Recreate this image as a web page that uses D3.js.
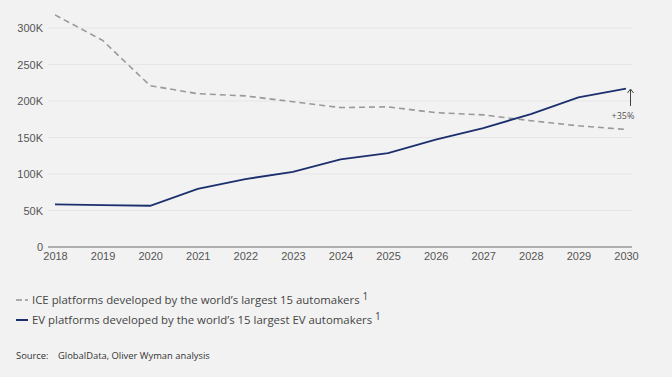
<!DOCTYPE html>
<html>
<head>
<meta charset="utf-8">
<script src="https://cdn.jsdelivr.net/npm/d3@7"></script>
<style>
  body { margin: 0; background: #f2f2f2; }
  svg { display: block; font-family: "Open Sans", "Noto Sans", sans-serif; }
</style>
</head>
<body>
<div id="chart"></div>
<script>
var years = [2018, 2019, 2020, 2021, 2022, 2023, 2024, 2025, 2026, 2027, 2028, 2029, 2030];
var iceValues = [318000, 283000, 221000, 210000, 207000, 199000, 191000, 192000, 184000, 181000, 173000, 166000, 161000];
var evValues = [58500, 57500, 56500, 79500, 93000, 103000, 120000, 128500, 147000, 163000, 182000, 205000, 217000];
var yTicks = [0, 50000, 100000, 150000, 200000, 250000, 300000];
var seriesNames = [
    "ICE platforms developed by the world\u2019s largest 15 automakers",
    "EV platforms developed by the world\u2019s 15 largest EV automakers"
];

var W = 672, H = 377;
var svg = d3.select("#chart").append("svg")
    .attr("width", W)
    .attr("height", H);

svg.append("rect").attr("width", W).attr("height", H).attr("fill", "#f2f2f2");

var x = d3.scaleLinear().domain([2018, 2030]).range([55, 626]);
var y = d3.scaleLinear().domain([0, 300000]).range([247, 28]);

// grid lines
svg.append("g")
    .selectAll("line")
    .data(yTicks.slice(1))
    .enter().append("line")
        .attr("x1", 48).attr("x2", 632)
        .attr("y1", function(d) { return y(d); })
        .attr("y2", function(d) { return y(d); })
        .attr("stroke", "#e6e6e6")
        .attr("stroke-width", 1);

// y axis labels
var yAxis = svg.append("g")
    .attr("transform", "translate(48,0)")
    .call(d3.axisLeft(y).tickValues(yTicks).tickSize(0).tickPadding(5)
        .tickFormat(function(d) { return d === 0 ? "0" : (d / 1000) + "K"; }));
yAxis.select(".domain").remove();
yAxis.selectAll("text").style("font-size", "11px").attr("fill", "#555");

// x axis
var xAxis = svg.append("g")
    .attr("transform", "translate(0,247)")
    .call(d3.axisBottom(x).tickValues(years).tickSize(0).tickPadding(5).tickFormat(d3.format("d")));
xAxis.select(".domain").remove();
xAxis.selectAll("text").style("font-size", "11px").attr("fill", "#555");
svg.append("line")
    .attr("x1", 48).attr("x2", 632)
    .attr("y1", y(0)).attr("y2", y(0))
    .attr("stroke", "#999")
    .attr("stroke-width", 1.5);

var line = d3.line()
    .x(function(d) { return x(d[0]); })
    .y(function(d) { return y(d[1]); });

svg.append("path")
    .datum(d3.zip(years, iceValues))
    .attr("d", line)
    .attr("fill", "none")
    .attr("stroke", "#999")
    .attr("stroke-width", 1.6)
    .attr("stroke-dasharray", "6,4");

svg.append("path")
    .datum(d3.zip(years, evValues))
    .attr("d", line)
    .attr("fill", "none")
    .attr("stroke", "#1b2f6e")
    .attr("stroke-width", 1.8);

// +35% annotation
var ax = 630.5;
svg.append("line")
    .attr("x1", ax).attr("x2", ax)
    .attr("y1", 106).attr("y2", 90)
    .attr("stroke", "#444").attr("stroke-width", 1);
svg.append("path")
    .attr("d", "M" + (ax - 3) + ",93 L" + ax + ",89 L" + (ax + 3) + ",93")
    .attr("fill", "none").attr("stroke", "#444").attr("stroke-width", 1);
svg.append("text")
    .attr("x", 623).attr("y", 119)
    .attr("text-anchor", "middle")
    .style("font-size", "9px")
    .attr("fill", "#555")
    .text("+35%");

// legend
var legend = svg.append("g");
legend.append("line").attr("x1", 16).attr("x2", 22).attr("y1", 300).attr("y2", 300)
    .attr("stroke", "#999").attr("stroke-width", 1.6);
legend.append("line").attr("x1", 25).attr("x2", 28).attr("y1", 300).attr("y2", 300)
    .attr("stroke", "#999").attr("stroke-width", 1.6);
legend.append("line").attr("x1", 16).attr("x2", 28).attr("y1", 320).attr("y2", 320)
    .attr("stroke", "#1b2f6e").attr("stroke-width", 2);

seriesNames.forEach(function(name, i) {
    var t = legend.append("text")
        .attr("x", 32).attr("y", 304 + i * 20)
        .style("font-size", "11.4px")
        .attr("fill", "#444");
    t.append("tspan").text(name + " ");
    t.append("tspan").attr("dy", -4).style("font-size", "10px").text("1");
});

var src = svg.append("text")
    .attr("y", 359)
    .style("font-size", "9.4px")
    .attr("fill", "#333");
src.append("tspan").attr("x", 16).text("Source:");
src.append("tspan").attr("x", 58).text("GlobalData, Oliver Wyman analysis");
</script>
</body>
</html>
